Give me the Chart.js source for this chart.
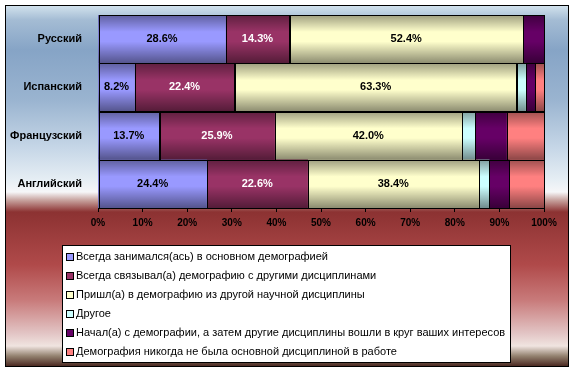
<!DOCTYPE html>
<html>
<head>
<meta charset="utf-8">
<script src="https://cdn.jsdelivr.net/npm/chart.js@4/dist/chart.umd.min.js"></script>
<style>
html, body { margin: 0; padding: 0; background: #fff; }
canvas { display: block; }
</style>
</head>
<body>
<canvas id="chart" width="575" height="372"></canvas>
<script>
// 데이터 =====================================================================
const languages = ['Русский', 'Испанский', 'Французский', 'Английский'];   // Y축 카테고리

const seriesNames = [
    'Всегда занимался(ась) в основном демографией',
    'Всегда связывал(а) демографию с другими дисциплинами',
    'Пришл(а) в демографию из другой научной дисциплины',
    'Другое',
    'Начал(а) с демографии, а затем другие дисциплины вошли в круг ваших интересов',
    'Демография никогда не была основной дисциплиной в работе'
];

const alwaysDemo   = [28.6,  8.2, 13.7, 24.4];
const linkedOther  = [14.3, 22.4, 25.9, 22.6];
const cameFrom     = [52.4, 63.3, 42.0, 38.4];
const otherAnswer  = [0,     2.0,  2.9,  2.3];
const startedDemo  = [4.7,   2.1,  7.1,  4.5];
const neverMain    = [0,     2.0,  8.4,  7.8];

const xTicks = [0, 10, 20, 30, 40, 50, 60, 70, 80, 90, 100];   // X축 눈금 (%)

const seriesColors = ['#9999FF', '#993366', '#FFFFCC', '#CCFFFF', '#660066', '#FF8080'];
const seriesValues = [alwaysDemo, linkedOther, cameFrom, otherAnswer, startedDemo, neverMain];
const labelledSeries = [0, 1, 2];   // 값 표시하는 시리즈

// 배경 (그라데이션 + 테두리)
const backgroundPlugin = {
    id: 'bg',
    beforeDraw(chart) {
        const ctx = chart.ctx;
        ctx.save();
        ctx.fillStyle = '#fff';
        ctx.fillRect(0, 0, chart.width, chart.height);
        const top = 5, bottom = 366;
        const g = ctx.createLinearGradient(0, top, 0, bottom);
        const stop = (y, c) => g.addColorStop((y - top) / (bottom - top), c);
        stop(5,   '#d4e4ee');
        stop(20,  '#a4bcd4');
        stop(50,  '#86a4c6');
        stop(100, '#9ab4d0');
        stop(150, '#c8d8e8');
        stop(180, '#e6eef4');
        stop(192, '#f6f6f8');
        stop(200, '#c8a4a0');
        stop(212, '#8c3232');
        stop(265, '#b04a4a');
        stop(300, '#c87a7a');
        stop(333, '#e2c4c4');
        stop(346, '#f0e4e0');
        stop(356, '#948270');
        stop(366, '#4c2a22');
        ctx.fillStyle = g;
        ctx.fillRect(5, 5, 563, 361);
        ctx.strokeStyle = '#000';
        ctx.lineWidth = 1;
        ctx.strokeRect(5.5, 5.5, 563, 361);
        ctx.restore();
    }
};

// 막대 입체 음영 + 값 라벨
const barDecorPlugin = {
    id: 'barDecor',
    afterDatasetsDraw(chart) {
        const ctx = chart.ctx;
        ctx.save();
        chart.data.datasets.forEach((ds, i) => {
            const meta = chart.getDatasetMeta(i);
            meta.data.forEach((bar) => {
                const left = Math.min(bar.base, bar.x);
                const w = Math.abs(bar.x - bar.base);
                if (w < 0.5) return;
                const t = bar.y - bar.height / 2;
                const g = ctx.createLinearGradient(0, t, 0, t + bar.height);
                g.addColorStop(0,    'rgba(0,0,0,0.38)');
                g.addColorStop(0.35, 'rgba(0,0,0,0)');
                g.addColorStop(0.55, 'rgba(0,0,0,0)');
                g.addColorStop(1,    'rgba(0,0,0,0.45)');
                ctx.fillStyle = g;
                ctx.fillRect(left, t, w, bar.height);
                ctx.strokeStyle = '#000';
                ctx.lineWidth = 1;
                ctx.strokeRect(Math.round(left) + 0.5, Math.round(t) + 0.5, Math.round(w), Math.round(bar.height));
            });
        });
        ctx.font = 'bold 11px "Liberation Sans", Arial, sans-serif';
        ctx.textAlign = 'center';
        ctx.textBaseline = 'middle';
        labelledSeries.forEach((i) => {
            const meta = chart.getDatasetMeta(i);
            meta.data.forEach((bar, j) => {
                const p = bar.getCenterPoint();
                ctx.fillStyle = i === 1 ? '#fff' : '#000';
                ctx.fillText(seriesValues[i][j].toFixed(1) + '%', p.x, p.y);
            });
        });
        ctx.restore();
    }
};

// 범례 (흰 상자, 한 줄에 하나)
const boxLegendPlugin = {
    id: 'boxLegend',
    afterDraw(chart) {
        const ctx = chart.ctx;
        const x = 62, y = 245, w = 448, h = 117;
        ctx.save();
        ctx.fillStyle = '#fff';
        ctx.fillRect(x, y, w, h);
        ctx.strokeStyle = '#000';
        ctx.lineWidth = 1;
        ctx.strokeRect(x + 0.5, y + 0.5, w, h);
        ctx.font = '11px "Liberation Sans", Arial, sans-serif';
        ctx.textBaseline = 'middle';
        ctx.textAlign = 'left';
        chart.data.datasets.forEach((ds, i) => {
            const cy = 257 + i * 19;
            ctx.fillStyle = ds.backgroundColor;
            ctx.fillRect(67, cy - 3, 6, 6);
            ctx.strokeRect(66.5, Math.round(cy) - 3.5, 7, 7);
            ctx.fillStyle = '#000';
            ctx.fillText(ds.label, 76, cy);
        });
        ctx.restore();
    }
};

const chart = new Chart(document.getElementById('chart'), {
    type: 'bar',
    data: {
        labels: languages,
        datasets: seriesNames.map((name, i) => ({
            label: name,
            data: seriesValues[i],
            backgroundColor: seriesColors[i],
            borderWidth: 0,
            barPercentage: 1,
            categoryPercentage: 1
        }))
    },
    options: {
        indexAxis: 'y',
        responsive: false,
        devicePixelRatio: 1,
        animation: false,
        layout: { padding: { left: 0, right: 31, top: 15, bottom: 134 } },
        plugins: {
            legend: { display: false },
            tooltip: { enabled: false }
        },
        scales: {
            x: {
                stacked: true,
                min: 0,
                max: 100,
                afterBuildTicks: (scale) => { scale.ticks = xTicks.map(v => ({ value: v })); },
                afterFit: (scale) => { scale.height = 30; },
                ticks: {
                    color: '#000',
                    padding: 5,
                    font: { family: '"Liberation Sans", Arial, sans-serif', size: 10, weight: 'bold' },
                    callback: (v) => v + '%'
                },
                grid: { drawOnChartArea: false, color: '#000', tickLength: 4 },
                border: { color: '#000' }
            },
            y: {
                stacked: true,
                afterFit: (scale) => { scale.width = 98; },
                ticks: {
                    color: '#000',
                    padding: 8,
                    font: { family: '"Liberation Sans", Arial, sans-serif', size: 11, weight: 'bold' }
                },
                grid: { display: false },
                border: { color: '#000' }
            }
        }
    },
    plugins: [backgroundPlugin, barDecorPlugin, boxLegendPlugin]
});
</script>
</body>
</html>
